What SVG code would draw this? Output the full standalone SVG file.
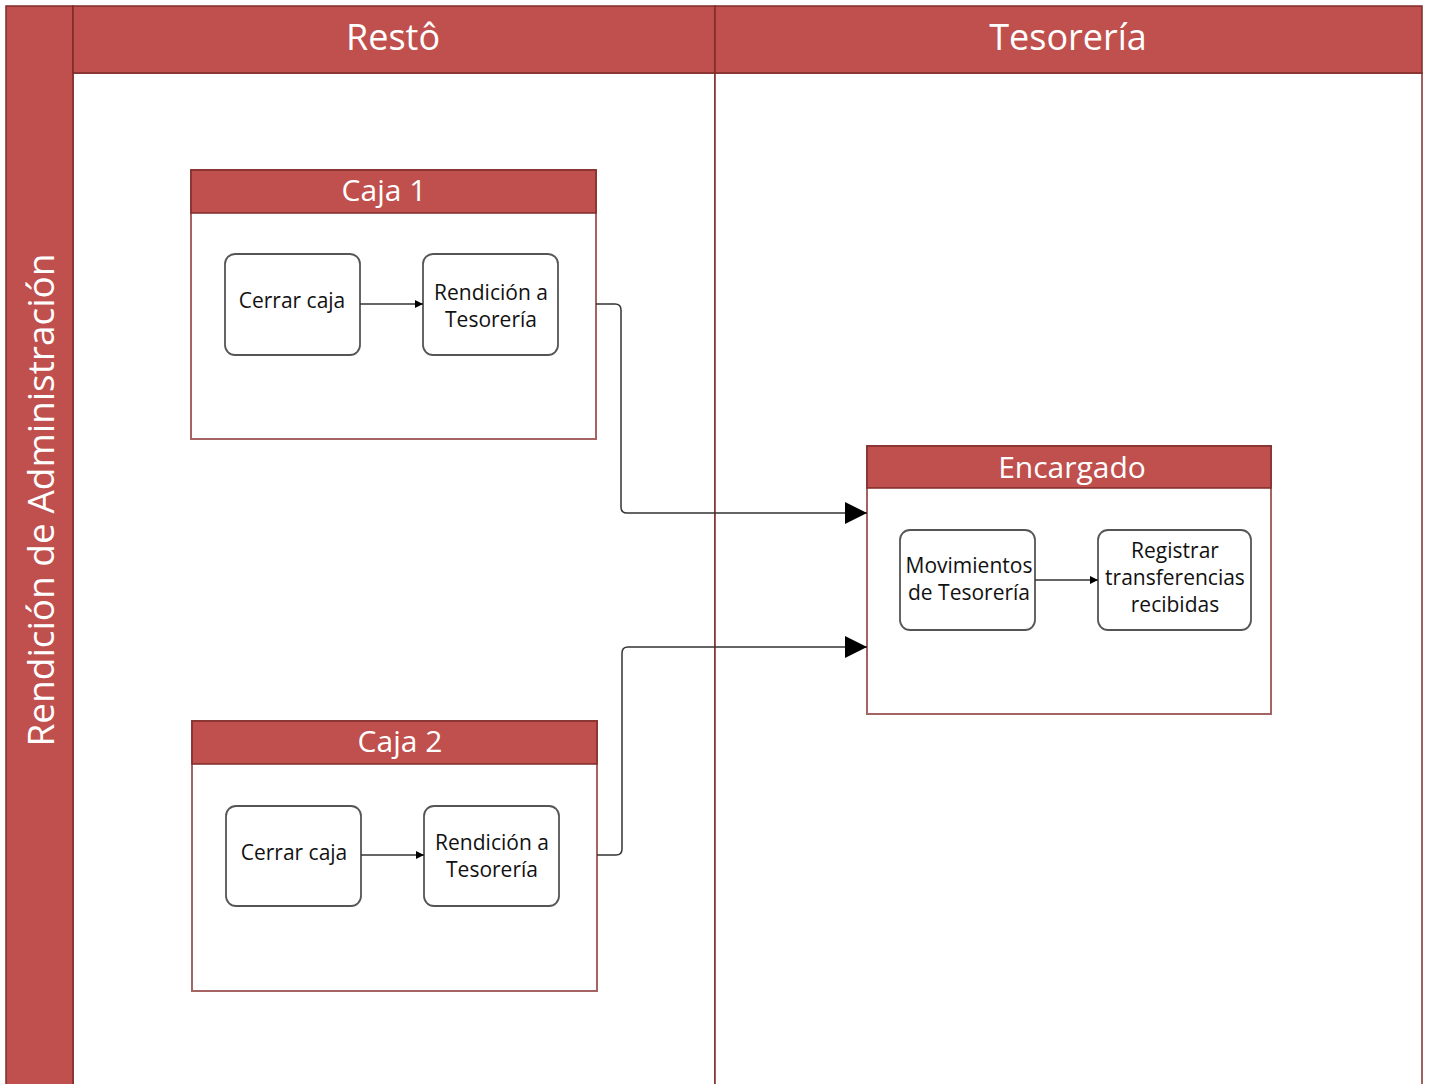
<svg xmlns="http://www.w3.org/2000/svg" width="1430" height="1084" viewBox="0 0 1430 1084">
<style>
.hdr{fill:#C0504D;stroke:#7F2B29;stroke-width:1.5}
.lane{fill:#fff;stroke:#7F2B29;stroke-width:1.5}
.box{fill:#fff;stroke:#A56462;stroke-width:2}
.ht{fill:#fff;font-family:"Open Sans","Noto Sans",sans-serif;text-anchor:middle}
.node{fill:#fff;stroke:#555;stroke-width:1.8}
.nt{fill:#111;font-family:"Open Sans","Noto Sans",sans-serif;font-size:21px;text-anchor:middle}
.conn{fill:none;stroke:#333;stroke-width:1.5}
</style>
<defs>
<marker id="big" viewBox="0 0 10 10" refX="10" refY="5" markerWidth="22" markerHeight="22" markerUnits="userSpaceOnUse" orient="auto"><path d="M0,0 L10,5 L0,10 z" fill="#000"/></marker>
<marker id="small" viewBox="0 0 10 10" refX="10" refY="5" markerWidth="8" markerHeight="8" markerUnits="userSpaceOnUse" orient="auto"><path d="M0,0 L10,5 L0,10 z" fill="#000"/></marker>
</defs>
<rect width="1430" height="1084" fill="#fff"/>
<g id="pool">
<rect class="lane" x="73" y="73" width="642" height="1020"/>
<rect class="lane" x="715" y="73" width="707" height="1020"/>
<rect class="hdr" x="6" y="6" width="67" height="1090"/>
<rect class="hdr" x="73" y="6" width="642" height="67"/>
<rect class="hdr" x="715" y="6" width="707" height="67"/>
<text class="ht" font-size="36" x="393" y="50">Restô</text>
<text class="ht" font-size="36" x="1068" y="50">Tesorería</text>
<text class="ht" font-size="37" transform="translate(54,500) rotate(-90)">Rendición de Administración</text>
</g>
<g id="caja1">
<rect class="box" x="191" y="170" width="405" height="269"/>
<rect class="hdr" x="191" y="170" width="405" height="43"/>
<text class="ht" font-size="30" x="384" y="201">Caja 1</text>
</g>
<g id="caja2">
<rect class="box" x="192" y="721" width="405" height="270"/>
<rect class="hdr" x="192" y="721" width="405" height="43"/>
<text class="ht" font-size="30" x="400" y="752">Caja 2</text>
</g>
<g id="encargado">
<rect class="box" x="867" y="446" width="404" height="268"/>
<rect class="hdr" x="867" y="446" width="404" height="42"/>
<text class="ht" font-size="30" x="1072" y="478">Encargado</text>
</g>
<g id="n1"><rect class="node" x="225" y="254" width="135" height="101" rx="10"/><text class="nt" x="292" y="308">Cerrar caja</text></g>
<g id="n2"><rect class="node" x="423" y="254" width="135" height="101" rx="10"/><text class="nt" x="491" y="300">Rendición a</text><text class="nt" x="491" y="327">Tesorería</text></g>
<g id="n3"><rect class="node" x="226" y="806" width="135" height="100" rx="10"/><text class="nt" x="294" y="860">Cerrar caja</text></g>
<g id="n4"><rect class="node" x="424" y="806" width="135" height="100" rx="10"/><text class="nt" x="492" y="850">Rendición a</text><text class="nt" x="492" y="877">Tesorería</text></g>
<g id="n5"><rect class="node" x="900" y="530" width="135" height="100" rx="10"/><text class="nt" x="969" y="573">Movimientos</text><text class="nt" x="969" y="600">de Tesorería</text></g>
<g id="n6"><rect class="node" x="1098" y="530" width="153" height="100" rx="10"/><text class="nt" x="1175" y="558">Registrar</text><text class="nt" x="1175" y="585">transferencias</text><text class="nt" x="1175" y="612">recibidas</text></g>
<g id="connectors">
<path class="conn" d="M360,304 H423" marker-end="url(#small)"/>
<path class="conn" d="M361,855 H424" marker-end="url(#small)"/>
<path class="conn" d="M1035,580 H1098" marker-end="url(#small)"/>
<path class="conn" d="M596,304 H615 Q621,304 621,310 V507 Q621,513 627,513 H867" marker-end="url(#big)"/>
<path class="conn" d="M597,855 H616 Q622,855 622,849 V653 Q622,647 628,647 H867" marker-end="url(#big)"/>
</g>
</svg>
